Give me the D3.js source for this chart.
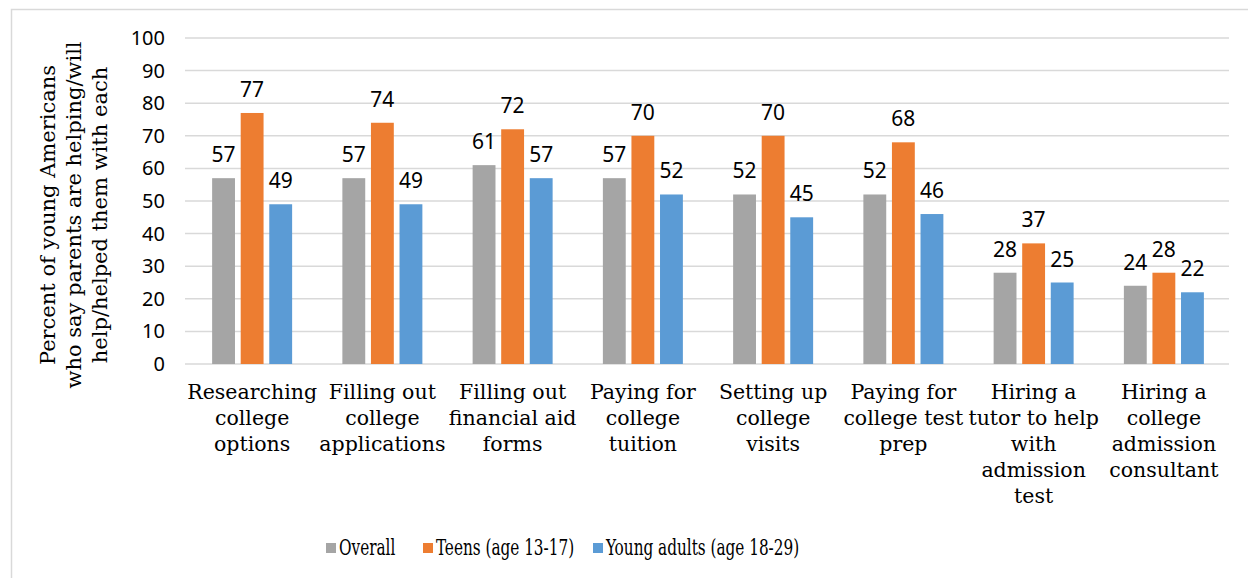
<!DOCTYPE html>
<html>
<head>
<meta charset="utf-8">
<script src="https://cdn.jsdelivr.net/npm/d3@7"></script>
<style>
  body { margin: 0; background: #fff; }
  svg text { fill: #000; }
  .cat { font-family: "DejaVu Serif", serif; font-size: 20.5px; }
  .ytitle { font-family: "DejaVu Serif", serif; font-size: 21px; }
  .tick-lbl { font-family: "Noto Sans", sans-serif; font-size: 20px; }
  .val { font-family: "Noto Sans", sans-serif; font-size: 21px; }
  .legend { font-family: "DejaVu Serif Condensed", "DejaVu Serif", serif; font-size: 21.5px; }
</style>
</head>
<body>
<div id="chart"></div>
<script>
var categories = [
  ['Researching', 'college', 'options'],
  ['Filling out', 'college', 'applications'],
  ['Filling out', 'financial aid', 'forms'],
  ['Paying for', 'college', 'tuition'],
  ['Setting up', 'college', 'visits'],
  ['Paying for', 'college test', 'prep'],
  ['Hiring a', 'tutor to help', 'with', 'admission', 'test'],
  ['Hiring a', 'college', 'admission', 'consultant']
];
var overall = [57, 57, 61, 57, 52, 52, 28, 24];
var teens = [77, 74, 72, 70, 70, 68, 37, 28];
var young = [49, 49, 57, 52, 45, 46, 25, 22];
var series_names = ['Overall', 'Teens (age 13-17)', 'Young adults (age 18-29)'];
var series_colors = ['#A5A5A5', '#ED7D31', '#5B9BD5'];
var y_ticks = [0, 10, 20, 30, 40, 50, 60, 70, 80, 90, 100];
var y_title = ['Percent of young Americans', 'who say parents are helping/will', 'help/helped them with each'];

var chart_width = 1248;
var chart_height = 578;
var plot_left = 187, plot_right = 1229, plot_top = 38, plot_bottom = 364;
var group_width = 80;

var svg = d3.select('#chart')
    .append('svg')
    .attr('width', chart_width)
    .attr('height', chart_height);

// outer frame
svg.append('rect')
    .attr('x', 11.5).attr('y', 9.5)
    .attr('width', 1300).attr('height', 700)
    .attr('fill', 'none')
    .attr('stroke', '#D9D9D9')
    .attr('stroke-width', 1.5);

var x_scale = d3.scaleBand()
    .domain(d3.range(categories.length))
    .range([plot_left, plot_right]);

var x_inner = d3.scaleBand()
    .domain(d3.range(3))
    .range([0, group_width])
    .paddingInner(0.2);

var y_scale = d3.scaleLinear()
    .domain([0, 100])
    .range([plot_bottom, plot_top]);

// gridlines
svg.selectAll('line.grid')
    .data(y_ticks)
    .enter()
    .append('line')
    .attr('x1', plot_left - 2).attr('x2', plot_right)
    .attr('y1', function (d) { return y_scale(d); })
    .attr('y2', function (d) { return y_scale(d); })
    .attr('stroke', '#D9D9D9')
    .attr('stroke-width', 1.5);

svg.selectAll('text.tick-lbl')
    .data(y_ticks)
    .enter()
    .append('text')
    .attr('class', 'tick-lbl')
    .attr('x', 165)
    .attr('y', function (d) { return y_scale(d) + 7; })
    .attr('text-anchor', 'end')
    .text(function (d) { return d; });

// y title
var yt = svg.append('text')
    .attr('class', 'ytitle')
    .attr('transform', 'translate(55,215) rotate(-90)')
    .attr('text-anchor', 'middle');
yt.selectAll('tspan')
    .data(y_title)
    .enter()
    .append('tspan')
    .attr('x', 0)
    .attr('dy', function (d, i) { return i === 0 ? 0 : 26; })
    .text(function (d) { return d; });

// bars
function bar_x(i, si) {
    return x_scale(i) + (x_scale.bandwidth() - group_width) / 2 + x_inner(si);
}
var series = [overall, teens, young];
var groups = svg.selectAll('g.series')
    .data(series)
    .enter()
    .append('g')
    .attr('fill', function (d, i) { return series_colors[i]; });

groups.each(function (vals, si) {
    var g = d3.select(this);
    g.selectAll('rect')
        .data(vals)
        .enter()
        .append('rect')
        .attr('x', function (d, i) { return bar_x(i, si); })
        .attr('y', function (d) { return y_scale(d); })
        .attr('width', x_inner.bandwidth())
        .attr('height', function (d) { return plot_bottom - y_scale(d); });
    svg.selectAll('text.val' + si)
        .data(vals)
        .enter()
        .append('text')
        .attr('class', 'val')
        .attr('x', function (d, i) { return bar_x(i, si) + x_inner.bandwidth() / 2; })
        .attr('y', function (d) { return y_scale(d) - 16; })
        .attr('text-anchor', 'middle')
        .text(function (d) { return d; });
});

// category labels
var cats = svg.selectAll('text.catlbl')
    .data(categories)
    .enter()
    .append('text')
    .attr('class', 'cat')
    .attr('text-anchor', 'middle')
    .attr('x', function (d, i) { return x_scale(i) + x_scale.bandwidth() / 2; })
    .attr('y', 399);
cats.selectAll('tspan')
    .data(function (d, i) { return d.map(function (t) { return { t: t, x: x_scale(i) + x_scale.bandwidth() / 2 }; }); })
    .enter()
    .append('tspan')
    .attr('x', function (d) { return d.x; })
    .attr('dy', function (d, i) { return i === 0 ? 0 : 26; })
    .text(function (d) { return d.t; });

// legend
var legend_x = [326, 423, 593];
var leg = svg.selectAll('g.leg')
    .data(series_names)
    .enter()
    .append('g')
    .attr('transform', function (d, i) { return 'translate(' + legend_x[i] + ',548)'; });
leg.append('rect')
    .attr('x', 0).attr('y', -5)
    .attr('width', 10).attr('height', 10)
    .attr('fill', function (d, i) { return series_colors[i]; });
leg.append('text')
    .attr('class', 'legend')
    .attr('transform', 'translate(13,7) scale(0.79,1)')
    .text(function (d) { return d; });
</script>
</body>
</html>
